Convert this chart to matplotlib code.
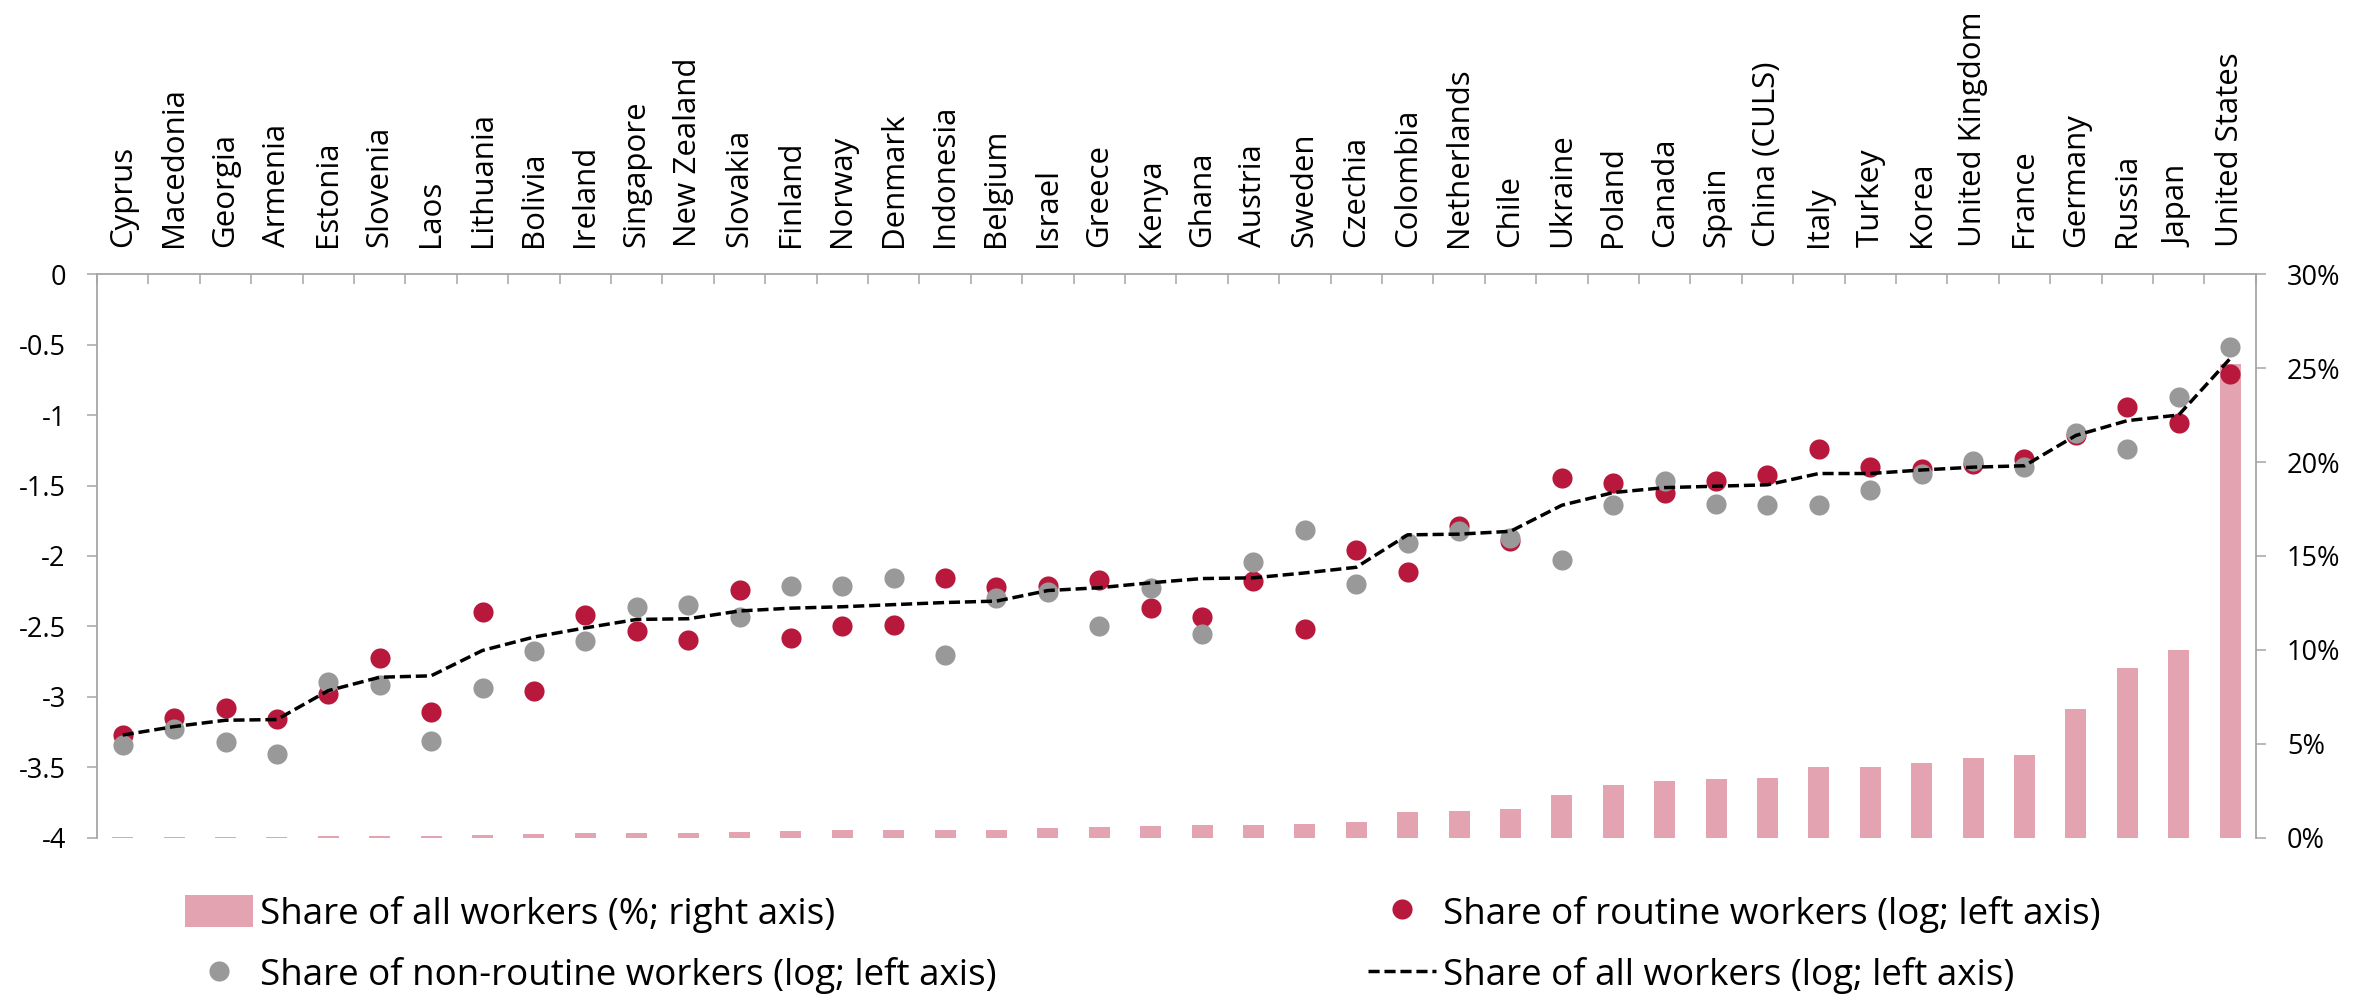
import numpy as np
import matplotlib
matplotlib.use("Agg")
import matplotlib.pyplot as plt
from matplotlib.lines import Line2D
from matplotlib.patches import Patch

plt.rcParams['font.family'] = ['Open Sans', 'DejaVu Sans']

countries = ["Cyprus", "Macedonia", "Georgia", "Armenia", "Estonia", "Slovenia", "Laos",
             "Lithuania", "Bolivia", "Ireland", "Singapore", "New Zealand", "Slovakia",
             "Finland", "Norway", "Denmark", "Indonesia", "Belgium", "Israel", "Greece",
             "Kenya", "Ghana", "Austria", "Sweden", "Czechia", "Colombia", "Netherlands",
             "Chile", "Ukraine", "Poland", "Canada", "Spain", "China (CULS)", "Italy",
             "Turkey", "Korea", "United Kingdom", "France", "Germany", "Russia", "Japan",
             "United States"]

# share of all workers, % (right axis)
share_pct = [0.04, 0.06, 0.06, 0.06, 0.10, 0.12, 0.12, 0.18, 0.22, 0.24, 0.28, 0.28, 0.33,
             0.38, 0.43, 0.45, 0.45, 0.45, 0.55, 0.59, 0.65, 0.69, 0.69, 0.75, 0.83, 1.40,
             1.44, 1.52, 2.28, 2.83, 3.03, 3.11, 3.17, 3.80, 3.80, 4.00, 4.27, 4.39, 6.87,
             9.04, 10.02, 25.24]

# log shares (left axis)
routine = [-3.27, -3.15, -3.08, -3.155, -2.98, -2.72, -3.11, -2.40, -2.955, -2.415, -2.53,
           -2.595, -2.24, -2.58, -2.50, -2.49, -2.155, -2.22, -2.21, -2.17, -2.37, -2.435,
           -2.18, -2.52, -1.96, -2.11, -1.785, -1.895, -1.445, -1.485, -1.55, -1.465, -1.425,
           -1.24, -1.37, -1.38, -1.35, -1.31, -1.145, -0.94, -1.055, -0.71]
nonroutine = [-3.34, -3.225, -3.32, -3.405, -2.895, -2.915, -3.315, -2.935, -2.675, -2.605,
              -2.36, -2.35, -2.435, -2.21, -2.21, -2.155, -2.705, -2.295, -2.255, -2.495,
              -2.23, -2.55, -2.045, -1.815, -2.20, -1.91, -1.825, -1.875, -2.025, -1.64,
              -1.47, -1.63, -1.64, -1.64, -1.535, -1.415, -1.325, -1.37, -1.125, -1.24,
              -0.875, -0.52]
all_log = [-3.27, -3.21, -3.165, -3.16, -2.955, -2.86, -2.85, -2.67, -2.575, -2.51, -2.45,
           -2.445, -2.39, -2.37, -2.36, -2.345, -2.33, -2.32, -2.245, -2.225, -2.19, -2.16,
           -2.155, -2.12, -2.08, -1.85, -1.845, -1.825, -1.64, -1.55, -1.515, -1.505, -1.495,
           -1.415, -1.415, -1.39, -1.37, -1.36, -1.145, -1.04, -1.0, -0.60]

left_ticks = [0, -0.5, -1, -1.5, -2, -2.5, -3, -3.5, -4]
right_ticks = [0, 5, 10, 15, 20, 25, 30]

pink = '#E3A3B0'
red = '#B8183B'
grey = '#999999'
spine_c = '#A6A6A6'

fig = plt.figure(figsize=(23.72, 9.99), dpi=100)
ax = fig.add_axes([0.0409, 0.1612, 0.951 - 0.0409, 0.7257 - 0.1612])
ax2 = ax.twinx()

x = np.arange(len(countries))

ax2.bar(x, share_pct, width=0.41, color=pink, zorder=1)
ax2.set_ylim(0, 30)
ax2.set_yticks(right_ticks)
ax2.set_yticklabels([f"{t}%" for t in right_ticks])

ax.plot(x, routine, 'o', color=red, markersize=14.5, markeredgewidth=0, zorder=3)
ax.plot(x, nonroutine, 'o', color=grey, markersize=14.5, markeredgewidth=0, zorder=4)
ax.plot(x, all_log, color='black', linewidth=2.5, dashes=(3.2, 1.4), zorder=5)

ax.set_zorder(ax2.get_zorder() + 1)
ax.patch.set_visible(False)

ax.set_ylim(-4, 0)
ax.set_xlim(-0.5, len(countries) - 0.5)
ax.set_yticks(left_ticks)
ax.set_yticklabels([f"{t:g}".replace('\u2212', '-') for t in left_ticks])

# x axis on top: boundary ticks, labels at category centres
ax.xaxis.tick_top()
ax.set_xticks(np.arange(-0.5, len(countries), 1.0))
ax.set_xticklabels([])
ax.set_xticks(x, minor=True)
ax.set_xticklabels(countries, minor=True, rotation=90, fontsize=22.5)
ax.tick_params(axis='x', which='major', direction='in', length=7.5, width=1.1, color=spine_c)
ax.tick_params(axis='x', which='minor', length=0, pad=19.5, top=True, labeltop=True,
               bottom=False, labelbottom=False)

ax.tick_params(axis='y', direction='out', length=7.5, width=1.1, color=spine_c,
               labelsize=19.5, pad=15)
ax2.tick_params(axis='y', direction='out', length=7.5, width=1.1, color=spine_c,
                labelsize=19.5, pad=15)

for a in (ax, ax2):
    for s in a.spines.values():
        s.set_visible(False)
ax.spines['left'].set_visible(True)
ax.spines['top'].set_visible(True)
ax2.spines['right'].set_visible(True)
for s in (ax.spines['left'], ax.spines['top'], ax2.spines['right']):
    s.set_color(spine_c)
    s.set_linewidth(1.3)

handles = [Patch(facecolor=pink, edgecolor='none'),
           Line2D([], [], marker='o', linestyle='none', color=grey, markersize=14.5, markeredgewidth=0),
           Line2D([], [], marker='o', linestyle='none', color=red, markersize=14.5, markeredgewidth=0),
           Line2D([], [], color='black', linewidth=2.5, dashes=(3.2, 1.4))]
labels = ["Share of all workers (%; right axis)",
          "Share of non-routine workers (log; left axis)",
          "Share of routine workers (log; left axis)",
          "Share of all workers (log; left axis)"]
fig.legend(handles, labels, loc='upper left', bbox_to_anchor=(0.078, 0.104), ncol=2,
           frameon=False, fontsize=26.5, handlelength=1.85, handletextpad=0.19,
           columnspacing=10.1, labelspacing=0.66, borderpad=0, borderaxespad=0,
           handleheight=0.95)

fig.savefig("out.png", dpi=100)
